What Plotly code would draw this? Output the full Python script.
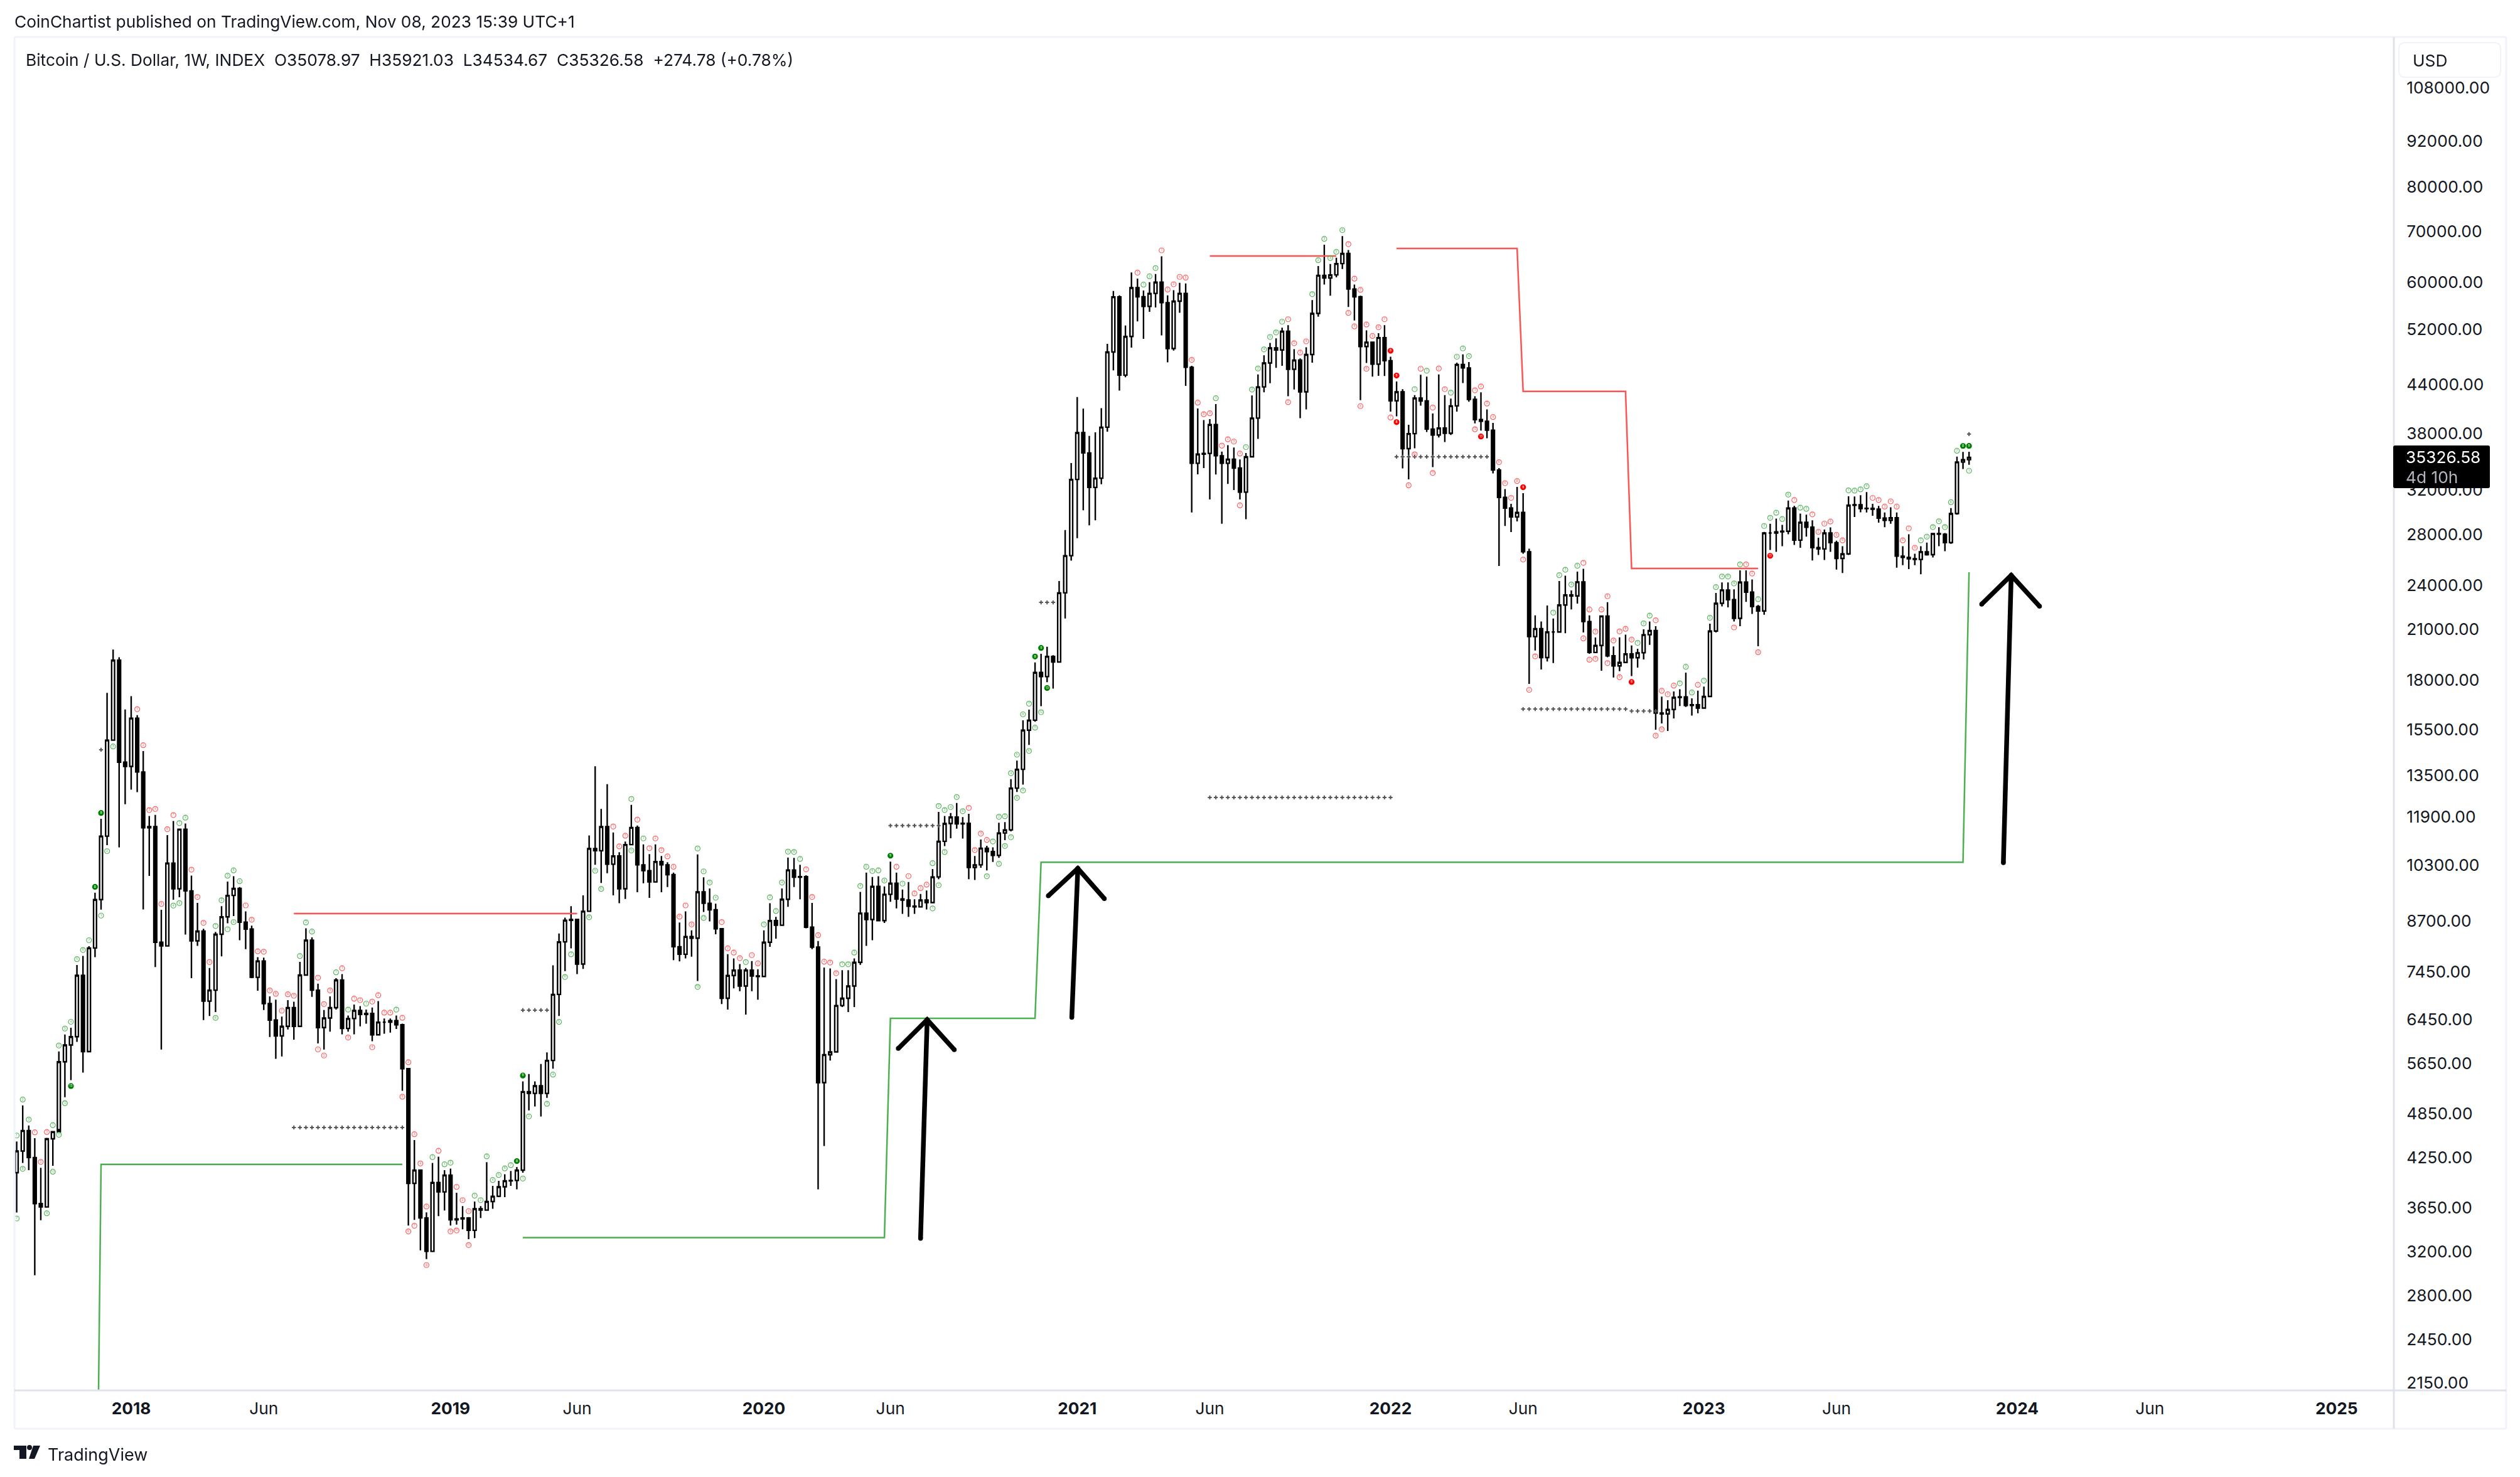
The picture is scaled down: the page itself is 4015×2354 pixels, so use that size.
import pandas as pd
import plotly.graph_objects as go

# weekly bars, first bar is the week of 2017-08-21
first_week = pd.Timestamp("2018-01-01")
first_bar = -19
first_open = 4060

highs = [
    4462, 4975, 4683, 4505, 4120, 4510, 4605, 5858, 6166, 6294,
    7607, 7820, 8055, 9466, 11838, 17330, 19750, 19300, 16480, 17160,
    16200, 14530, 11940, 11980, 8990, 11270, 11760, 11480, 11670, 9970,
    9180, 8490, 7540, 8410, 9090, 9790, 9950, 9630, 8950, 8570,
    7790, 7780, 6920, 6850, 6510, 6840, 6810, 7680, 8500, 8270,
    7190, 6640, 6920, 7310, 7400, 6530, 6750, 6720, 6650, 6690,
    6820, 6470, 6470, 6530, 6370, 5570, 4480, 4100, 3600, 4180,
    4260, 4090, 4110, 3820, 3670, 3550, 3720, 3670, 4190, 3900,
    3960, 4040, 4080, 4130, 5350, 5470, 5350, 5640, 5840, 7600,
    8370, 8780, 9090, 8730, 9390, 11260, 13880, 12200, 13150, 11360,
    10700, 11050, 12350, 11600, 10960, 10640, 10960, 10580, 10380, 10060,
    8650, 8950, 8450, 10630, 9920, 9590, 9160, 8510, 7860, 7760,
    7630, 7540, 7700, 7510, 8450, 9170, 8800, 9590, 10530, 10520,
    10300, 9980, 9180, 8180, 7550, 7530, 7290, 7490, 7490, 7760,
    9490, 10060, 9930, 9950, 9650, 10400, 10060, 9560, 9780, 9280,
    9430, 9530, 10170, 12090, 11940, 12050, 12420, 11900, 12020, 10580,
    11120, 10910, 10860, 11700, 11720, 13350, 14120, 15950, 16470, 19000,
    19500, 19920, 19420, 24300, 28350, 34730, 42400, 40930, 37700, 38100,
    41000, 49800, 58440, 57650, 52640, 61800, 60660, 58500, 60000, 61500,
    64900, 57650, 58580, 59900, 59770, 46600, 40950, 39540, 39650, 41500,
    35950, 36650, 36400, 35100, 35800, 42600, 45400, 48100, 49950, 50630,
    52300, 52700, 49000, 47640, 49290, 56850, 63000, 67200, 63400, 64600,
    69000, 66130, 59570, 57600, 51860, 50100, 51430, 52700, 47900, 44440,
    43420, 38990, 42650, 45360, 45100, 40340, 45400, 42650, 42200, 47050,
    48250, 47130, 42500, 43000, 40830, 39200, 34200, 32100, 30700, 32300,
    31700, 26800, 21910, 21500, 22570, 21700, 24300, 24700, 23620, 25000,
    25220, 21900, 20490, 21900, 22800, 19940, 20500, 20660, 20000, 19800,
    21000, 21500, 21200, 17130, 16950, 17400, 17520, 18420, 17040, 17440,
    17660, 21360, 23440, 24200, 24200, 23700, 25100, 25100, 24420, 22600,
    28200, 28900, 29350, 28800, 31000, 30500, 29800, 29700, 29200, 27700,
    28400, 28580, 27450, 27000, 31400, 31380, 31500, 31800, 30700, 30500,
    29900, 30380, 29900, 27000, 28000, 26400, 27000, 27300, 28100, 28600,
    28100, 30300, 35400, 35920, 35921.03,
]
lows = [
    3598, 4181, 4090, 2976, 3516, 3655, 4145, 4635, 5100, 5370,
    6030, 5494, 5845, 7790, 8993, 10930, 15000, 10860, 12370, 12930,
    12830, 9000, 9960, 7560, 5892, 8060, 9270, 9340, 8340, 7310,
    8060, 6440, 6520, 6600, 7810, 8630, 8820, 8200, 7980, 7310,
    7040, 6640, 6120, 5730, 5770, 6260, 6070, 6320, 7380, 6910,
    6000, 5890, 6220, 6650, 6170, 6220, 6170, 6320, 6370, 6040,
    6160, 6180, 6200, 6270, 5200, 3460, 3520, 3210, 3125, 3200,
    3560, 3620, 3460, 3470, 3420, 3320, 3330, 3540, 3625, 3640,
    3770, 3770, 3900, 3860, 4060, 4900, 4960, 4810, 5090, 5560,
    6520, 7470, 8000, 7400, 7520, 8950, 10300, 9750, 10040, 9390,
    9170, 9290, 10950, 9480, 9740, 9320, 9780, 9480, 9630, 7720,
    7690, 7760, 7800, 7250, 8930, 8680, 8350, 6760, 6650, 7090,
    7030, 6550, 7030, 6850, 7350, 8040, 8240, 8580, 9070, 9630,
    9280, 8500, 7980, 3860, 4400, 5700, 5850, 6700, 6600, 6700,
    7610, 8060, 8200, 8680, 8640, 9210, 9030, 8880, 8800, 8880,
    9050, 9000, 9190, 9860, 10900, 11160, 11490, 11150, 9860, 9840,
    10210, 10130, 10390, 10520, 11100, 11400, 12840, 13130, 14800, 15880,
    16640, 17900, 17550, 19000, 21700, 25850, 27660, 30100, 28760, 29200,
    32570, 38170, 45950, 43230, 45000, 49240, 53280, 50560, 54870, 55600,
    51100, 47080, 48800, 54700, 43850, 29900, 33560, 34200, 31100, 33540,
    28900, 32600, 32000, 31100, 29300, 35300, 37350, 43010, 44200, 46320,
    46600, 42500, 43380, 39760, 40830, 47030, 54050, 59570, 57600, 60900,
    62450, 55670, 53440, 41990, 47000, 45100, 45200, 45190, 40570, 40000,
    34160, 33050, 36300, 41300, 38150, 34300, 37510, 37000, 37800, 40560,
    44230, 41800, 39150, 38300, 37430, 33650, 25430, 28700, 28180, 29100,
    26400, 17800, 19700, 18600, 19050, 18960, 20830, 20750, 22300, 22700,
    20800, 19500, 19550, 18530, 19300, 18150, 18500, 18950, 18230, 18700,
    19170, 20040, 15500, 15800, 15440, 16040, 16650, 16600, 16180, 16290,
    16520, 17140, 20800, 22500, 22440, 21500, 21200, 22820, 22000, 19950,
    21950, 26700, 26550, 27000, 28000, 27100, 26870, 27800, 25860, 26300,
    25900, 26550, 25160, 24900, 26300, 29500, 29920, 29900, 29600, 29000,
    28600, 28900, 25300, 25500, 25200, 25500, 24800, 26250, 26100, 27000,
    26600, 27200, 29700, 34100, 34534.67,
]
closes = [
    4334, 4610, 4250, 3697, 3660, 4498, 4594, 5677, 5973, 6125,
    7373, 5855, 8010, 9273, 11235, 15020, 19125, 14050, 13870, 16050,
    13640, 11520, 11560, 8150, 8060, 10353, 9580, 11470, 9520, 8185,
    8430, 6820, 7050, 8350, 8800, 9390, 9590, 8660, 8480, 7330,
    7700, 6770, 6440, 6140, 6320, 6686, 6320, 7380, 8200, 7050,
    6295, 6480, 6686, 7270, 6280, 6470, 6630, 6550, 6570, 6160,
    6400, 6400, 6430, 6350, 5560, 3930, 4090, 3540, 3200, 3940,
    3830, 4030, 3520, 3530, 3540, 3410, 3640, 3625, 3720, 3780,
    3890, 3960, 3965, 4090, 5187, 5160, 5280, 5160, 5700, 6960,
    8160, 8710, 8730, 7630, 8950, 10820, 10750, 11560, 10320, 10580,
    9580, 10950, 11530, 10300, 10120, 9780, 10400, 10300, 10000, 8040,
    7860, 8290, 8250, 9490, 9170, 8990, 8490, 6880, 7370, 7490,
    7140, 7490, 7360, 7350, 8150, 8700, 8580, 9280, 10140, 9920,
    9940, 8530, 8030, 5330, 5800, 5850, 6730, 6880, 7140, 7670,
    8900, 8730, 9650, 8700, 9420, 9740, 9290, 9260, 9090, 9070,
    9260, 9190, 9930, 11060, 11670, 11900, 11660, 11680, 10220, 10300,
    10830, 10720, 10600, 11340, 11450, 12990, 13750, 15480, 15950, 18430,
    18200, 19350, 19020, 23450, 26240, 33040, 38070, 35800, 32250, 33170,
    38700, 48580, 57400, 45300, 50920, 59010, 57410, 55780, 58000, 60000,
    56400, 49100, 56660, 58000, 46390, 34700, 35670, 35750, 39000, 35500,
    34700, 35130, 34200, 31800, 35390, 39780, 43720, 47000, 49190, 48880,
    51720, 46110, 47400, 43070, 48220, 54590, 61250, 60780, 61340, 63470,
    65450, 58780, 57410, 49390, 50050, 46830, 50740, 47320, 41920, 43070,
    36270, 37950, 42260, 41900, 38480, 37800, 38600, 38000, 41280, 46780,
    46300, 42100, 39600, 39400, 38350, 34000, 31300, 30300, 29500, 29900,
    26550, 20540, 21040, 19280, 20830, 20830, 22600, 23300, 23230, 24240,
    21500, 19580, 20000, 21860, 19380, 18800, 19000, 19490, 19270, 19560,
    20660, 20920, 16300, 16260, 16480, 17090, 17120, 16680, 16720, 16550,
    17140, 20890, 22720, 23650, 22970, 21710, 24220, 23500, 22500, 22200,
    28100, 28100, 28200, 28250, 30300, 27500, 29020, 28600, 26890, 26780,
    28100, 27290, 26020, 26380, 30560, 30610, 30250, 30280, 30200, 29400,
    29200, 29420, 26200, 26100, 26000, 25940, 26550, 26320, 28050, 28000,
    27300, 29800, 34830, 35078.97, 35326.58,
]

# counts above the bars: g/r light, G/R dark, . nothing. (first week, codes)
above_counts = [
    (-19, "gggrrrgggggggGG"),
    (1, "rrrrrrrggrrrrgggggrrrrrrrrrgggrrrgrgrrgrrrrgrrrrrgrggrrrgggggggGG"),
    (80, "rrrgrgrrrrrrrrggggrrrrgrrgggggggrrrrrrggggggggGrgrrrrggggggrrrrgggggggGG"),
    (167, "rgggrrrrrrrrrgrrrrgggggggrrrrggggggrrrrrrrRR..grgrrrggggrrrrrrrrR"),
    (236, "ggggg" + "rrrrrrrrrgggrrrrgggrgggggggrrggggggrggrrrrrrggggrrrrrrrrgggggggGG"),
]
# counts under the bars: (week, count)
below_green = [
    (-19, 7), (-18, 8), (-14, 9), (-13, 10), (-12, 11), (-11, 12), (-5, 1), (-4, 2), (-3, 3),
    (7, 4), (8, 5), (14, 6), (16, 7), (17, 8), (65, 1), (66, 2), (69, 3), (70, 4), (71, 5),
    (72, 6), (73, 7), (76, 8), (77, 9), (78, 10), (83, 11), (94, 12), (95, 13), (133, 1),
    (134, 2), (135, 3), (142, 4), (144, 5), (145, 6), (146, 7), (147, 8), (148, 9),
    (149, 10), (150, 11), (151, 12), (305, 1),
]
below_green_dark = [(-10, 13), (152, 13)]
below_red = [
    (31, 1), (32, 2), (36, 3), (40, 4), (45, 5), (46, 6), (47, 7), (49, 8), (53, 9), (54, 10),
    (56, 11), (184, 1), (192, 2), (202, 3), (203, 4), (204, 5), (205, 6), (209, 7), (212, 9),
    (213, 10), (216, 11), (223, 12), (231, 1), (232, 2), (233, 3), (241, 4), (242, 5),
    (243, 6), (245, 7), (247, 8), (253, 9), (254, 10), (266, 11), (270, 12),
]
below_red_dark = [(210, 8), (224, 13), (249, 9), (272, 13)]

# support and resistance steps
green_weeks = [-6, -5, 45, None, 65, 125, 126, 150, 151, 304, 305]
green_prices = [800, 4162, 4162, None, 3335, 3335, 6476, 6476, 10380, 10380, 24960]
red_weeks = [27, 74, None, 179, 200, None, 210, 230, 231, 248, 249, 270]
red_prices = [8889, 8889, None, 64950, 64950, None, 66440, 66440, 43120, 43120, 25240, 25240]

# dotted levels
level_start = [-5, 65, 27, 126, 179, 151, 210, 231, 249, 305]
level_end = [-5, 69, 45, 134, 209, 153, 225, 248, 253, 305]
level_price = [14590, 6637, 4654, 11597, 12630, 22780, 35390, 16500, 16400, 37900]

# hand drawn arrows: tail, tip, then the barbs
arrow_weeks = [
    [131.0, 132.1, None, 127.3, 132.1, 136.6],
    [156.1, 157.1, None, 152.2, 157.1, 161.5],
    [310.7, 312.0, None, 307.1, 312.0, 316.7],
]
arrow_prices = [
    [3327, 6448, None, 5910, 6448, 5888],
    [6492, 10190, None, 9377, 10190, 9300],
    [10364, 24727, None, 22660, 24727, 22520],
]

price_ticks = [
    108000, 92000, 80000, 70000, 60000, 52000, 44000, 38000, 32000, 28000, 24000, 21000, 18000, 15500,
    13500, 11900, 10300, 8700, 7450, 6450, 5650, 4850, 4250, 3650, 3200, 2800, 2450, 2150,
]
time_ticks = [
    "2018-01-01", "2018-06-04", "2019-01-07", "2019-06-03", "2020-01-06", "2020-06-01", "2021-01-04",
    "2021-06-07", "2022-01-03", "2022-06-06", "2023-01-02", "2023-06-05", "2024-01-01", "2024-06-03",
    "2025-01-06",
]
time_labels = [
    "<b>2018</b>", "Jun", "<b>2019</b>", "Jun", "<b>2020</b>", "Jun", "<b>2021</b>", "Jun",
    "<b>2022</b>", "Jun", "<b>2023</b>", "Jun", "<b>2024</b>", "Jun", "<b>2025</b>",
]

TEXT = "#131722"
BORDER = "#e0e3eb"
FRAME = "#f0f3fa"
FONT = "Inter"
FONT_SIZE = 26.3

# page layout in pixels
W, H = 4015, 2354
LEFT, RIGHT, TOP, BOTTOM = 24, 3814, 60, 2215


def px(x):
    return (x - LEFT) / (RIGHT - LEFT)


def py(y):
    return (BOTTOM - y) / (BOTTOM - TOP)


def week_date(k):
    return first_week + pd.Timedelta(weeks=k)


def week_dates(weeks):
    return [None if k is None else week_date(k) for k in weeks]


def round_box(x0, y0, x1, y1, r):
    a, b, c, d = px(x0), px(x1), py(y0), py(y1)
    dx, dy = r / (RIGHT - LEFT), r / (BOTTOM - TOP)
    return (
        f"M {a + dx} {c} L {b - dx} {c} Q {b} {c} {b} {c - dy} L {b} {d + dy} Q {b} {d} {b - dx} {d} "
        f"L {a + dx} {d} Q {a} {d} {a} {d + dy} L {a} {c - dy} Q {a} {c} {a + dx} {c} Z"
    )


def line_shape(x0, y0, x1, y1, color):
    return dict(
        type="line", xref="paper", yref="paper", x0=px(x0), y0=py(y0), x1=px(x1), y1=py(y1),
        line=dict(color=color, width=3),
    )


def label(text, x, y, size=FONT_SIZE, color=TEXT):
    return dict(
        text=text, xref="paper", yref="paper", x=px(x), y=py(y), xanchor="left", yanchor="middle",
        showarrow=False, borderpad=0, font=dict(family=FONT, size=size, color=color),
    )


weeks = list(range(first_bar, first_bar + len(closes)))
dates = [week_date(k) for k in weeks]
opens = [first_open] + closes[:-1]
high_by_week = dict(zip(weeks, highs))
low_by_week = dict(zip(weeks, lows))

# turn the above codes into week, count, colour
above = {"g": [], "r": [], "G": [], "R": []}
for start, codes in above_counts:
    run_color, run = None, 0
    for i, code in enumerate(codes):
        if code == ".":
            run_color, run = None, 0
            continue
        run = run + 1 if code.lower() == run_color else 1
        run_color = code.lower()
        above[code].append((start + i, run))


def count_trace(above_marks, below_marks, color, dark):
    xs, ys, texts = [], [], []
    for k, n in above_marks:
        xs.append(week_date(k))
        ys.append(high_by_week[k] * 1.018)
        texts.append(str(n))
    for k, n in below_marks:
        xs.append(week_date(k))
        ys.append(low_by_week[k] / 1.018)
        texts.append(str(n))
    return go.Scatter(
        x=xs, y=ys, text=texts, mode="markers+text", textposition="middle center",
        textfont=dict(family=FONT, size=5, color="#ffffff" if dark else color),
        marker=dict(
            symbol="circle" if dark else "circle-open", size=8, color=color,
            line=dict(color=color, width=1.2),
        ),
        opacity=1 if dark else 0.9, hoverinfo="skip",
    )


fig = go.Figure()
fig.add_trace(go.Scatter(
    x=week_dates(green_weeks), y=green_prices, mode="lines", connectgaps=False,
    line=dict(color="#4caf50", width=2.5), hoverinfo="skip",
))
fig.add_trace(go.Scatter(
    x=week_dates(red_weeks), y=red_prices, mode="lines", connectgaps=False,
    line=dict(color="#ff5252", width=2.5), hoverinfo="skip",
))

level_x, level_y = [], []
for start, end, price in zip(level_start, level_end, level_price):
    for k in range(start, end + 1):
        level_x.append(week_date(k))
        level_y.append(price)
fig.add_trace(go.Scatter(
    x=level_x, y=level_y, mode="markers", hoverinfo="skip",
    marker=dict(symbol="cross-thin", size=4.5, line=dict(color="#555555", width=2)),
))

fig.add_trace(go.Candlestick(
    x=dates, open=opens, high=highs, low=lows, close=closes, hoverinfo="skip",
    increasing=dict(fillcolor="#ffffff", line=dict(color="#000000", width=2.4)),
    decreasing=dict(fillcolor="#000000", line=dict(color="#000000", width=2.4)),
))

fig.add_trace(count_trace(above["g"], below_green, "#4caf50", False))
fig.add_trace(count_trace(above["r"], below_red, "#ff5252", False))
fig.add_trace(count_trace(above["G"], below_green_dark, "#008000", True))
fig.add_trace(count_trace(above["R"], below_red_dark, "#ff0000", True))

for arrow_x, arrow_y in zip(arrow_weeks, arrow_prices):
    fig.add_trace(go.Scatter(
        x=week_dates(arrow_x), y=arrow_y, mode="lines+markers", connectgaps=False, hoverinfo="skip",
        line=dict(color="#000000", width=7.5), marker=dict(color="#000000", size=7.5),
    ))

shapes = [
    line_shape(23, 59, 3993, 59, FRAME),
    line_shape(23, 59, 23, 2277, FRAME),
    line_shape(3993, 59, 3993, 2277, FRAME),
    line_shape(23, 2277, 3993, 2277, FRAME),
    line_shape(3814, 59, 3814, 2277, BORDER),
    line_shape(23, 2216, 3993, 2216, BORDER),
    # USD box and the last price tag sit over the axis labels
    dict(
        type="path", xref="paper", yref="paper", path=round_box(3822, 68, 3984, 123, 10),
        fillcolor="#ffffff", line=dict(color=FRAME, width=2),
    ),
    dict(
        type="path", xref="paper", yref="paper", path=round_box(3813, 710, 3967, 778, 3),
        fillcolor="#000000", line=dict(color="#000000", width=0),
    ),
    # TradingView mark
    dict(
        type="path", xref="paper", yref="paper", fillcolor=TEXT, line=dict(width=0),
        path=(
            f"M {px(22)} {py(2304)} L {px(42)} {py(2304)} L {px(42)} {py(2325)} L {px(31)} {py(2325)} "
            f"L {px(31)} {py(2311)} L {px(22)} {py(2311)} Z"
        ),
    ),
    dict(
        type="path", xref="paper", yref="paper", fillcolor=TEXT, line=dict(width=0),
        path=f"M {px(53)} {py(2304)} L {px(64)} {py(2304)} L {px(55)} {py(2325)} L {px(46)} {py(2325)} Z",
    ),
    dict(
        type="circle", xref="paper", yref="paper", fillcolor=TEXT, line=dict(width=0),
        x0=px(43), x1=px(51), y0=py(2303), y1=py(2311),
    ),
]

annotations = [
    label("CoinChartist published on TradingView.com, Nov 08, 2023 15:39 UTC+1", 22, 35),
    label(
        "Bitcoin / U.S. Dollar, 1W, INDEX  O35078.97  H35921.03  L34534.67  C35326.58  +274.78 (+0.78%)",
        40, 95,
    ),
    label("USD", 3843, 96),
    label("35326.58", 3832, 729, color="#ffffff"),
    label("4d 10h", 3832, 760, color="#b2b5be"),
    label("TradingView", 75, 2318, size=27),
]

fig.update_layout(
    width=W, height=H, paper_bgcolor="#ffffff", plot_bgcolor="#ffffff", showlegend=False,
    margin=dict(l=LEFT, r=W - RIGHT, t=TOP, b=H - BOTTOM, pad=0),
    boxgap=0.3, shapes=shapes, annotations=annotations,
    font=dict(family=FONT, size=FONT_SIZE, color=TEXT),
    xaxis=dict(
        type="date", range=[week_date(-19.27), week_date(375.5)], rangeslider=dict(visible=False),
        showgrid=False, zeroline=False, showline=False, ticks="outside", ticklen=6, tickcolor="#ffffff",
        tickmode="array", tickvals=time_ticks, ticktext=time_labels, tickangle=0,
    ),
    yaxis=dict(
        type="log", range=[3.3233, 5.0994], side="right", showgrid=False, zeroline=False, showline=False,
        ticks="outside", ticklen=14, tickcolor="#ffffff", tickmode="array", tickvals=price_ticks,
        ticktext=[f"{p}.00" for p in price_ticks],
    ),
)

fig.write_html("out.html", config={"displayModeBar": False}, post_script="document.body.style.margin='0'")
